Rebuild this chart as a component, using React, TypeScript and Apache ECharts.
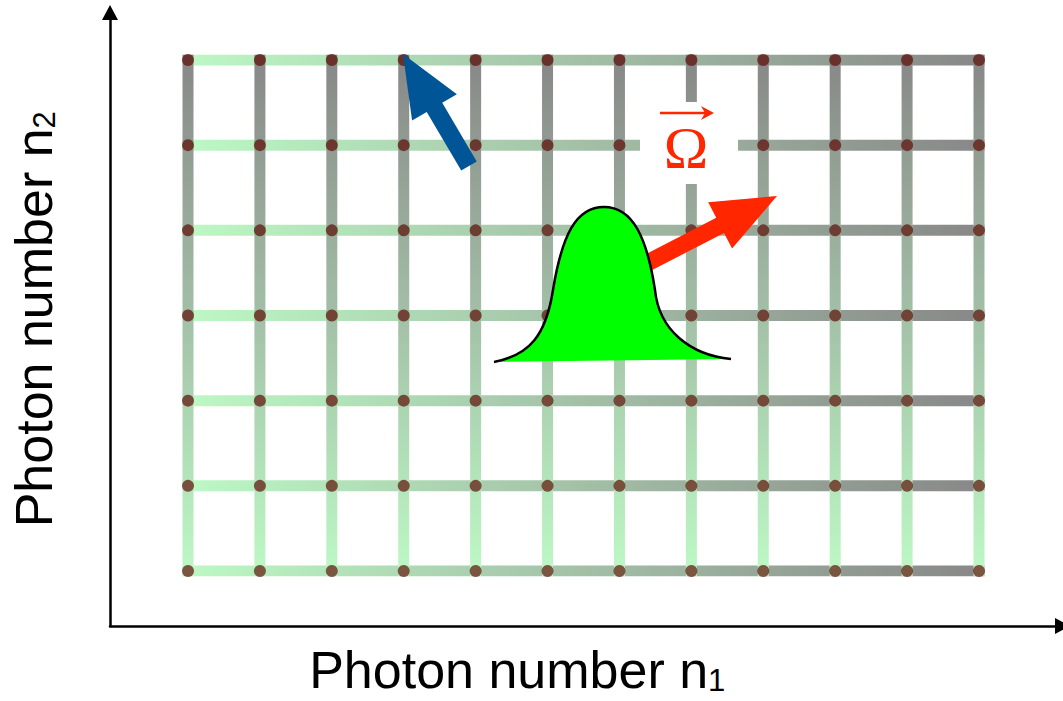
import React, { useEffect, useRef } from 'react';
import * as echarts from 'echarts';

// Photon-number lattice (n1 columns, n2 rows)
const photonN1 = [0, 1, 2, 3, 4, 5, 6, 7, 8, 9, 10, 11];
const photonN2 = [0, 1, 2, 3, 4, 5, 6];

// Texts
const xTitle = 'Photon number n';
const xTitleSub = '1';
const yTitle = 'Photon number n';
const yTitleSub = '2';
const omegaLabel = 'Ω';

// Colours
const GREEN_LIGHT = '#bdf8c5';
const GRID_GRAY = '#888888';
const DOT = 'rgba(90,8,0,0.85)';
const RED = '#ff2600';
const BLUE = '#005596';
const BUMP_GREEN = '#00ff00';

const BUMP_PATH =
  'M494,362 C530,355 546,335 553,290 C562,235 576,207 604,207 C633,207 647,238 655,290 C659,330 690,355 731,359';

try {
  echarts.graphic.registerShape('bump', echarts.graphic.extendPath(BUMP_PATH, {}));
} catch (e) {
  /* already registered */
}

function arrowPts(tip: number[], tail: number[], headLen: number, headHalf: number, shaftHalf: number) {
  const dx = tip[0] - tail[0];
  const dy = tip[1] - tail[1];
  const len = Math.hypot(dx, dy);
  const ux = dx / len;
  const uy = dy / len;
  const nx = -uy;
  const ny = ux;
  const bx = tip[0] - ux * headLen;
  const by = tip[1] - uy * headLen;
  return [
    [tail[0] + nx * shaftHalf, tail[1] + ny * shaftHalf],
    [bx + nx * shaftHalf, by + ny * shaftHalf],
    [bx + nx * headHalf, by + ny * headHalf],
    [tip[0], tip[1]],
    [bx - nx * headHalf, by - ny * headHalf],
    [bx - nx * shaftHalf, by - ny * shaftHalf],
    [tail[0] - nx * shaftHalf, tail[1] - ny * shaftHalf],
  ];
}

export default function App() {
  const ref = useRef<HTMLDivElement>(null);

  useEffect(() => {
    if (!ref.current) return;
    const chart = echarts.init(ref.current, undefined, { renderer: 'svg' });

    const n1Min = photonN1[0];
    const n1Max = photonN1[photonN1.length - 1];
    const n2Min = photonN2[0];
    const n2Max = photonN2[photonN2.length - 1];

    const lineStyleBase = { width: 11, cap: 'square' as const };

    const hSeries = photonN2.map((r) => ({
      type: 'line',
      xAxisIndex: 0,
      yAxisIndex: 0,
      data: [
        [n1Min, r],
        [n1Max, r],
      ],
      symbol: 'none',
      silent: true,
      lineStyle: { ...lineStyleBase },
      z: 2,
    }));
    const vSeries = photonN1.map((c) => ({
      type: 'line',
      xAxisIndex: 0,
      yAxisIndex: 0,
      data: [
        [c, n2Min],
        [c, n2Max],
      ],
      symbol: 'none',
      silent: true,
      lineStyle: { ...lineStyleBase },
      z: 3,
    }));
    const dots: number[][] = [];
    photonN2.forEach((r) => photonN1.forEach((c) => dots.push([c, r])));
    const dotSeries = {
      type: 'scatter',
      xAxisIndex: 0,
      yAxisIndex: 0,
      data: dots,
      symbolSize: 12,
      silent: true,
      itemStyle: { color: DOT },
      z: 4,
    };

    const hIdx = hSeries.map((_, i) => i);
    const vIdx = vSeries.map((_, i) => i + hSeries.length);

    const richMain = { fontFamily: 'Liberation Sans', fontSize: 52, color: '#000' };
    const richSub = {
      fontFamily: 'Liberation Sans',
      fontSize: 31,
      lineHeight: 24,
      verticalAlign: 'bottom',
      color: '#000',
    };

    const axisLineStyle = {
      show: true,
      onZero: false,
      symbol: ['none', 'triangle'],
      symbolSize: [16, 15],
      lineStyle: { color: '#000', width: 2.5 },
    };

    const redArrow = arrowPts([777, 196], [628, 273], 64, 26, 8.5);
    const blueArrow = arrowPts([403, 54], [469, 166], 62, 26, 9);

    chart.setOption({
      animation: false,
      backgroundColor: '#ffffff',
      grid: [
        { left: 188, right: 84, top: 60, bottom: 130 },
        { left: 107, right: 0.5, top: 12.5, bottom: 73 },
      ],
      xAxis: [
        { gridIndex: 0, type: 'value', min: n1Min, max: n1Max, show: false },
        {
          gridIndex: 1,
          type: 'value',
          min: 0,
          max: 1,
          axisLine: axisLineStyle,
          axisTick: { show: false },
          axisLabel: { show: false },
          splitLine: { show: false },
          name: `{a|${xTitle}}{b|${xTitleSub}}`,
          nameLocation: 'middle',
          nameGap: 18,
          nameTextStyle: { padding: [0, 138, 0, 0], rich: { a: richMain, b: richSub } },
        },
      ],
      yAxis: [
        { gridIndex: 0, type: 'value', min: n2Min, max: n2Max, show: false },
        {
          gridIndex: 1,
          type: 'value',
          min: 0,
          max: 1,
          axisLine: axisLineStyle,
          axisTick: { show: false },
          axisLabel: { show: false },
          splitLine: { show: false },
          name: `{a|${yTitle}}{b|${yTitleSub}}`,
          nameLocation: 'middle',
          nameRotate: 90,
          nameGap: 50,
          nameTextStyle: { rich: { a: richMain, b: richSub } },
        },
      ],
      visualMap: [
        {
          type: 'continuous',
          show: false,
          dimension: 0,
          seriesIndex: hIdx,
          min: n1Min,
          max: n1Max,
          inRange: { color: [GREEN_LIGHT, GRID_GRAY] },
        },
        {
          type: 'continuous',
          show: false,
          dimension: 1,
          seriesIndex: vIdx,
          min: n2Min,
          max: n2Max,
          inRange: { color: [GREEN_LIGHT, GRID_GRAY] },
        },
      ],
      series: [...hSeries, ...vSeries, dotSeries],
      graphic: [
        {
          type: 'rect',
          z: 100,
          silent: true,
          shape: { x: 640, y: 102, width: 98, height: 82 },
          style: { fill: '#ffffff' },
        },
        {
          type: 'text',
          z: 101,
          x: 686,
          y: 148,
          style: {
            text: omegaLabel,
            fontFamily: 'Liberation Serif',
            fontSize: 60,
            fill: RED,
            align: 'center',
            verticalAlign: 'middle',
          },
        },
        {
          type: 'line',
          z: 101,
          shape: { x1: 660, y1: 113, x2: 708, y2: 113 },
          style: { stroke: RED, lineWidth: 2.5 },
        },
        {
          type: 'polygon',
          z: 101,
          shape: {
            points: [
              [701, 106],
              [714, 113],
              [701, 120],
              [705, 113],
            ],
          },
          style: { fill: RED },
        },
        {
          type: 'polygon',
          z: 102,
          shape: { points: redArrow },
          style: { fill: RED },
        },
        {
          type: 'bump',
          z: 103,
          x: 0,
          y: 0,
          style: { fill: BUMP_GREEN, stroke: '#000', lineWidth: 2.5 },
        },
        {
          type: 'polygon',
          z: 104,
          shape: { points: blueArrow },
          style: { fill: BLUE },
        },
      ],
    });

    return () => chart.dispose();
  }, []);

  return (
    <div
      ref={ref}
      style={{ position: 'absolute', left: 0, top: 0, width: 1063, height: 701, background: '#fff' }}
    />
  );
}
